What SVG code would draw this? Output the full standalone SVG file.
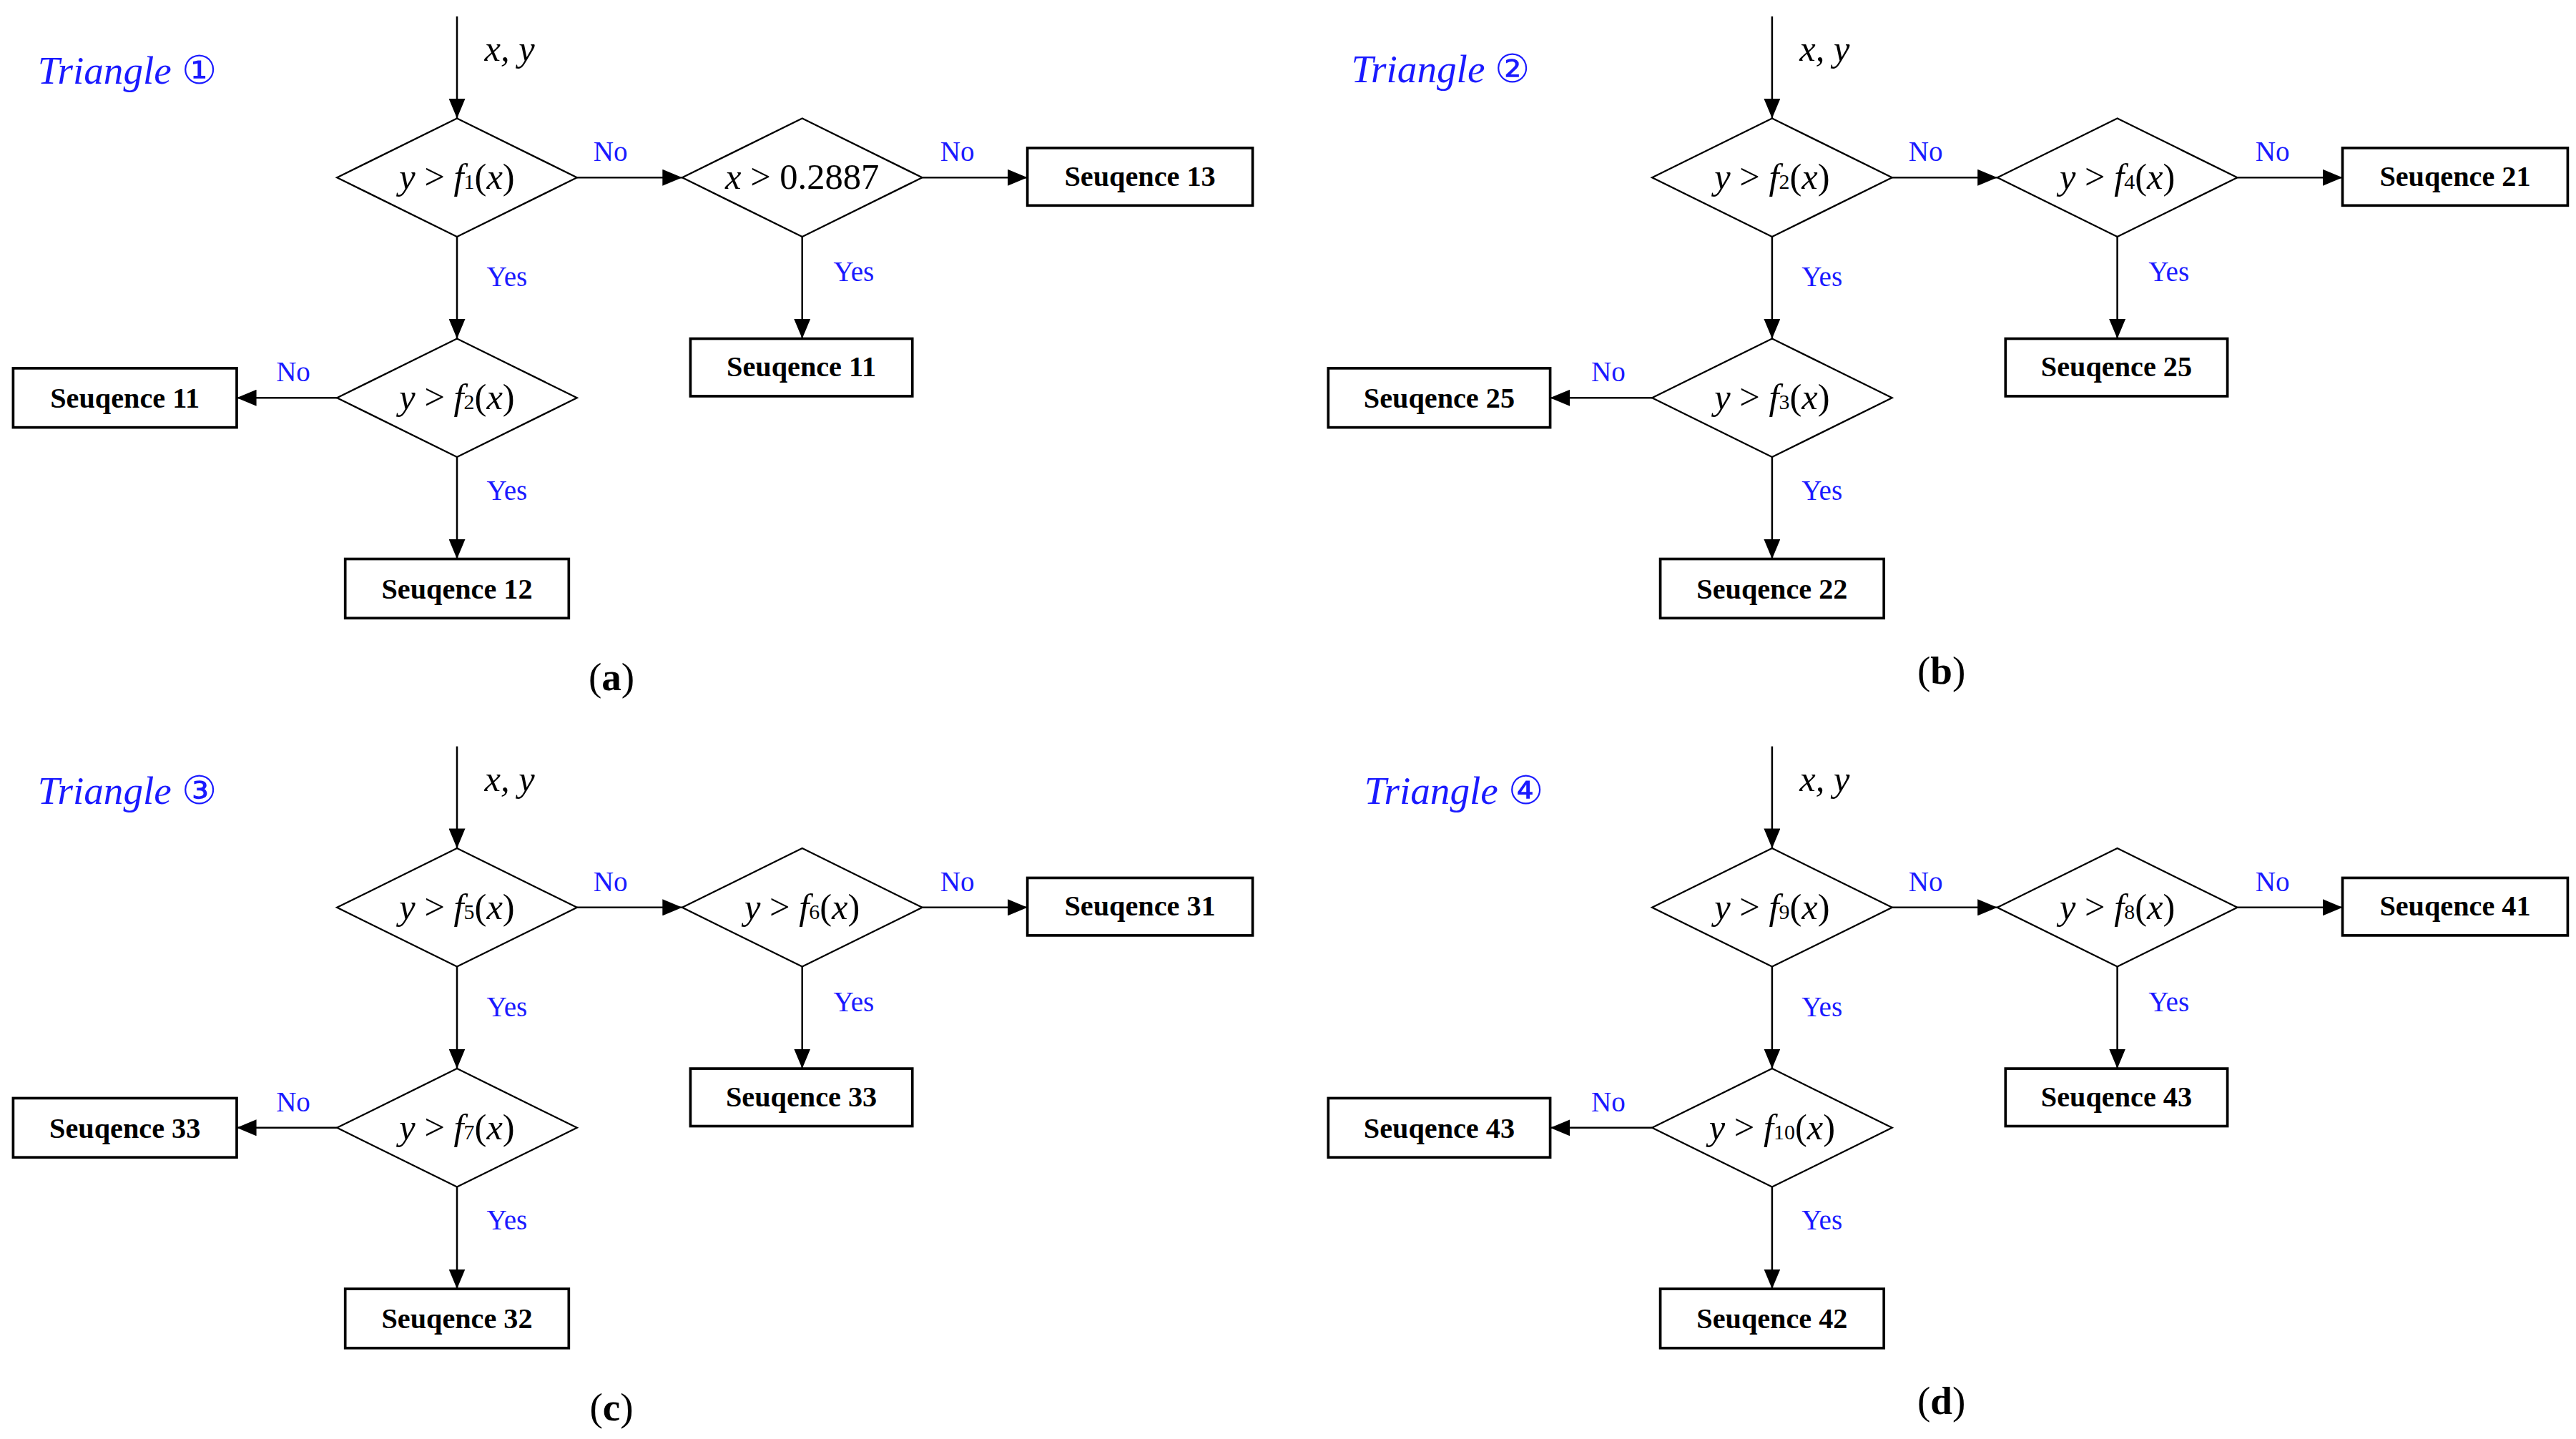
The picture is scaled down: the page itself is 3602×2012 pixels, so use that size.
<svg xmlns="http://www.w3.org/2000/svg" width="3602" height="2012" viewBox="0 0 3602 2012">
<style>
.bg{fill:#fff}
.d{fill:#fff;stroke:#000;stroke-width:1}
.b{fill:#fff;stroke:#000;stroke-width:1.6}
.e{stroke:#000;stroke-width:1.1;fill:none;marker-end:url(#ah)}
.m{font-family:"Liberation Serif",serif;font-size:22px;text-anchor:middle}
.i{font-style:italic}
.s{font-family:"Liberation Serif",serif;font-size:17.5px;font-weight:bold;text-anchor:middle}
.l{font-family:"Liberation Serif",serif;font-size:17px;fill:#1a1aff}
.t{font-family:"Liberation Serif",serif;font-size:24px;font-style:italic;fill:#1a1aff}
.n{font-style:normal}
.c{font-family:"Liberation Serif",serif;font-size:24px;text-anchor:middle}
</style>
<defs>
<marker id="ah" viewBox="0 0 12 10" refX="12" refY="5" markerWidth="12" markerHeight="10" markerUnits="userSpaceOnUse" orient="auto"><path d="M0,0L12,5L0,10Z" fill="#000"/></marker>
</defs>
<rect class="bg" width="3602" height="2012"/>
<g transform="scale(2.2986)">
<g id="panel-a">
<g id="connectors-a">
<line class="e" x1="278" y1="10" x2="278" y2="72"/>
<line class="e" x1="351" y1="108" x2="415" y2="108"/>
<line class="e" x1="561" y1="108" x2="625" y2="108"/>
<line class="e" x1="488" y1="144" x2="488" y2="206"/>
<line class="e" x1="278" y1="144" x2="278" y2="206"/>
<line class="e" x1="205" y1="242" x2="144" y2="242"/>
<line class="e" x1="278" y1="278" x2="278" y2="340"/>
<text class="l" x="361" y="98">No</text><text class="l" x="572" y="98">No</text>
<text class="l" x="296" y="174">Yes</text><text class="l" x="507" y="171">Yes</text>
<text class="l" x="168" y="232">No</text><text class="l" x="296" y="304">Yes</text>
</g>
<text class="t" x="23" y="51">Triangle <tspan class="n">①</tspan></text>
<text class="m i" x="310" y="37">x, y</text>
<g id="a-d1"><polygon class="d" points="205,108 278,72 351,108 278,144"/><text class="m" x="278" y="115"><tspan class="i">y</tspan> &gt; <tspan class="i">f</tspan><tspan font-size="13">1</tspan>(<tspan class="i">x</tspan>)</text></g>
<g id="a-d2"><polygon class="d" points="415,108 488,72 561,108 488,144"/><text class="m" x="488" y="115"><tspan class="i">x</tspan> &gt; 0.2887</text></g>
<g id="a-d3"><polygon class="d" points="205,242 278,206 351,242 278,278"/><text class="m" x="278" y="249"><tspan class="i">y</tspan> &gt; <tspan class="i">f</tspan><tspan font-size="13">2</tspan>(<tspan class="i">x</tspan>)</text></g>
<g id="a-s13"><rect class="b" x="625" y="90" width="137" height="35"/><text class="s" x="693.5" y="113">Seuqence 13</text></g>
<g id="a-s11r"><rect class="b" x="420" y="206" width="135" height="35"/><text class="s" x="487.5" y="229">Seuqence 11</text></g>
<g id="a-s11l"><rect class="b" x="8" y="224" width="136" height="36"/><text class="s" x="76" y="248">Seuqence 11</text></g>
<g id="a-s12"><rect class="b" x="210" y="340" width="136" height="36"/><text class="s" x="278" y="364">Seuqence 12</text></g>
<text class="c" x="372" y="420">(<tspan font-weight="bold">a</tspan>)</text>
</g>
<g id="panel-b">
<g id="connectors-b">
<line class="e" x1="1078" y1="10" x2="1078" y2="72"/>
<line class="e" x1="1151" y1="108" x2="1215" y2="108"/>
<line class="e" x1="1361" y1="108" x2="1425" y2="108"/>
<line class="e" x1="1288" y1="144" x2="1288" y2="206"/>
<line class="e" x1="1078" y1="144" x2="1078" y2="206"/>
<line class="e" x1="1005" y1="242" x2="943" y2="242"/>
<line class="e" x1="1078" y1="278" x2="1078" y2="340"/>
<text class="l" x="1161" y="98">No</text><text class="l" x="1372" y="98">No</text>
<text class="l" x="1096" y="174">Yes</text><text class="l" x="1307" y="171">Yes</text>
<text class="l" x="968" y="232">No</text><text class="l" x="1096" y="304">Yes</text>
</g>
<text class="t" x="822" y="50">Triangle <tspan class="n">②</tspan></text>
<text class="m i" x="1110" y="37">x, y</text>
<g id="b-d1"><polygon class="d" points="1005,108 1078,72 1151,108 1078,144"/><text class="m" x="1078" y="115"><tspan class="i">y</tspan> &gt; <tspan class="i">f</tspan><tspan font-size="13">2</tspan>(<tspan class="i">x</tspan>)</text></g>
<g id="b-d2"><polygon class="d" points="1215,108 1288,72 1361,108 1288,144"/><text class="m" x="1288" y="115"><tspan class="i">y</tspan> &gt; <tspan class="i">f</tspan><tspan font-size="13">4</tspan>(<tspan class="i">x</tspan>)</text></g>
<g id="b-d3"><polygon class="d" points="1005,242 1078,206 1151,242 1078,278"/><text class="m" x="1078" y="249"><tspan class="i">y</tspan> &gt; <tspan class="i">f</tspan><tspan font-size="13">3</tspan>(<tspan class="i">x</tspan>)</text></g>
<g id="b-s21"><rect class="b" x="1425" y="90" width="137" height="35"/><text class="s" x="1493.5" y="113">Seuqence 21</text></g>
<g id="b-s25r"><rect class="b" x="1220" y="206" width="135" height="35"/><text class="s" x="1287.5" y="229">Seuqence 25</text></g>
<g id="b-s25l"><rect class="b" x="808" y="224" width="135" height="36"/><text class="s" x="875.5" y="248">Seuqence 25</text></g>
<g id="b-s22"><rect class="b" x="1010" y="340" width="136" height="36"/><text class="s" x="1078" y="364">Seuqence 22</text></g>
<text class="c" x="1181" y="416">(<tspan font-weight="bold">b</tspan>)</text>
</g>
<g id="panel-c" transform="translate(0,444)">
<g id="connectors-c">
<line class="e" x1="278" y1="10" x2="278" y2="72"/>
<line class="e" x1="351" y1="108" x2="415" y2="108"/>
<line class="e" x1="561" y1="108" x2="625" y2="108"/>
<line class="e" x1="488" y1="144" x2="488" y2="206"/>
<line class="e" x1="278" y1="144" x2="278" y2="206"/>
<line class="e" x1="205" y1="242" x2="144" y2="242"/>
<line class="e" x1="278" y1="278" x2="278" y2="340"/>
<text class="l" x="361" y="98">No</text><text class="l" x="572" y="98">No</text>
<text class="l" x="296" y="174">Yes</text><text class="l" x="507" y="171">Yes</text>
<text class="l" x="168" y="232">No</text><text class="l" x="296" y="304">Yes</text>
</g>
<text class="t" x="23" y="45">Triangle <tspan class="n">③</tspan></text>
<text class="m i" x="310" y="37">x, y</text>
<g id="c-d1"><polygon class="d" points="205,108 278,72 351,108 278,144"/><text class="m" x="278" y="115"><tspan class="i">y</tspan> &gt; <tspan class="i">f</tspan><tspan font-size="13">5</tspan>(<tspan class="i">x</tspan>)</text></g>
<g id="c-d2"><polygon class="d" points="415,108 488,72 561,108 488,144"/><text class="m" x="488" y="115"><tspan class="i">y</tspan> &gt; <tspan class="i">f</tspan><tspan font-size="13">6</tspan>(<tspan class="i">x</tspan>)</text></g>
<g id="c-d3"><polygon class="d" points="205,242 278,206 351,242 278,278"/><text class="m" x="278" y="249"><tspan class="i">y</tspan> &gt; <tspan class="i">f</tspan><tspan font-size="13">7</tspan>(<tspan class="i">x</tspan>)</text></g>
<g id="c-s31"><rect class="b" x="625" y="90" width="137" height="35"/><text class="s" x="693.5" y="113">Seuqence 31</text></g>
<g id="c-s33r"><rect class="b" x="420" y="206" width="135" height="35"/><text class="s" x="487.5" y="229">Seuqence 33</text></g>
<g id="c-s33l"><rect class="b" x="8" y="224" width="136" height="36"/><text class="s" x="76" y="248">Seuqence 33</text></g>
<g id="c-s32"><rect class="b" x="210" y="340" width="136" height="36"/><text class="s" x="278" y="364">Seuqence 32</text></g>
<text class="c" x="372" y="420">(<tspan font-weight="bold">c</tspan>)</text>
</g>
<g id="panel-d" transform="translate(0,444)">
<g id="connectors-d">
<line class="e" x1="1078" y1="10" x2="1078" y2="72"/>
<line class="e" x1="1151" y1="108" x2="1215" y2="108"/>
<line class="e" x1="1361" y1="108" x2="1425" y2="108"/>
<line class="e" x1="1288" y1="144" x2="1288" y2="206"/>
<line class="e" x1="1078" y1="144" x2="1078" y2="206"/>
<line class="e" x1="1005" y1="242" x2="943" y2="242"/>
<line class="e" x1="1078" y1="278" x2="1078" y2="340"/>
<text class="l" x="1161" y="98">No</text><text class="l" x="1372" y="98">No</text>
<text class="l" x="1096" y="174">Yes</text><text class="l" x="1307" y="171">Yes</text>
<text class="l" x="968" y="232">No</text><text class="l" x="1096" y="304">Yes</text>
</g>
<text class="t" x="830" y="45">Triangle <tspan class="n">④</tspan></text>
<text class="m i" x="1110" y="37">x, y</text>
<g id="d-d1"><polygon class="d" points="1005,108 1078,72 1151,108 1078,144"/><text class="m" x="1078" y="115"><tspan class="i">y</tspan> &gt; <tspan class="i">f</tspan><tspan font-size="13">9</tspan>(<tspan class="i">x</tspan>)</text></g>
<g id="d-d2"><polygon class="d" points="1215,108 1288,72 1361,108 1288,144"/><text class="m" x="1288" y="115"><tspan class="i">y</tspan> &gt; <tspan class="i">f</tspan><tspan font-size="13">8</tspan>(<tspan class="i">x</tspan>)</text></g>
<g id="d-d3"><polygon class="d" points="1005,242 1078,206 1151,242 1078,278"/><text class="m" x="1078" y="249"><tspan class="i">y</tspan> &gt; <tspan class="i">f</tspan><tspan font-size="13">10</tspan>(<tspan class="i">x</tspan>)</text></g>
<g id="d-s41"><rect class="b" x="1425" y="90" width="137" height="35"/><text class="s" x="1493.5" y="113">Seuqence 41</text></g>
<g id="d-s43r"><rect class="b" x="1220" y="206" width="135" height="35"/><text class="s" x="1287.5" y="229">Seuqence 43</text></g>
<g id="d-s43l"><rect class="b" x="808" y="224" width="135" height="36"/><text class="s" x="875.5" y="248">Seuqence 43</text></g>
<g id="d-s42"><rect class="b" x="1010" y="340" width="136" height="36"/><text class="s" x="1078" y="364">Seuqence 42</text></g>
<text class="c" x="1181" y="416">(<tspan font-weight="bold">d</tspan>)</text>
</g>
</g>
</svg>
